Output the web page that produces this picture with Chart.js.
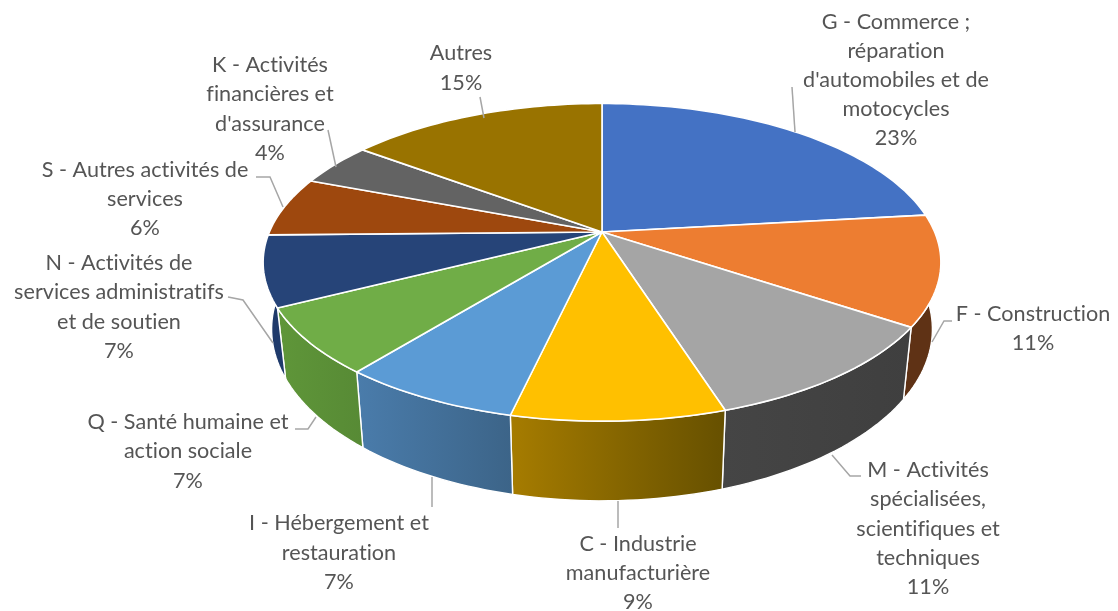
<!DOCTYPE html>
<html>
<head>
<meta charset="utf-8">
<style>
  html, body { margin: 0; padding: 0; background: #fff; }
  canvas { display: block; }
</style>
<script src="https://cdn.jsdelivr.net/npm/chart.js@4/dist/chart.umd.js"></script>
</head>
<body>
<canvas id="pie" width="1118" height="611"></canvas>
<script>
const categories = [
    "G - Commerce ;\nréparation\nd'automobiles et de\nmotocycles",
    'F - Construction',
    'M - Activités\nspécialisées,\nscientifiques et\ntechniques',
    'C - Industrie\nmanufacturière',
    'I - Hébergement et\nrestauration',
    'Q - Santé humaine et\naction sociale',
    'N - Activités de\nservices administratifs\net de soutien',
    'S - Autres activités de\nservices',
    'K - Activités\nfinancières et\nd\'assurance',
    'Autres'
];
const shares = [23.2, 11.2, 10.7, 8.5, 7.2, 6.7, 7.2, 6.1, 4.4, 14.8];
const topColors = ['#4472C4', '#ED7D31', '#A5A5A5', '#FFC000', '#5B9BD5', '#70AD47', '#264478', '#9E480E', '#636363', '#997300'];
const wallFrom = ['#2f5597', '#5f3215', '#454545', '#a67c00', '#4a7cab', '#5f9639', '#1f3a6b', '#6f3209', '#454545', '#6b5000'];
const wallTo = ['#2f5597', '#5f3215', '#3f3f3f', '#665000', '#3c6488', '#578a35', '#1f3a6b', '#6f3209', '#454545', '#6b5000'];

// where the text sits: centre x, centre y of each line
const labelX = [896, 1033, 928, 638, 339, 188, 119, 145, 270, 461];
const labelY = [
    [22.5, 51.5, 80.5, 109.5, 138.5],
    [314.5, 343.5],
    [470.5, 499.5, 529.5, 558.5, 587.5],
    [544.5, 573.5, 602.5],
    [523.5, 553.5, 582.5],
    [422.5, 451.5, 481.5],
    [263.5, 292.5, 322.5, 351.5],
    [170.5, 199.5, 228.5],
    [65.5, 94.5, 124.5, 153.5],
    [53.5, 83.5]
];
const leaders = [
    [[792, 87], [795, 132]],
    [[952, 321], [944, 321], [932, 342]],
    [[861, 476], [850, 476], [832, 455]],
    [[618, 501], [618, 528]],
    [[432, 477], [432, 507]],
    [[295, 429], [308, 429], [316, 417]],
    [[228, 297], [243, 300], [273, 343]],
    [[256, 177], [270, 177], [283, 207]],
    [[328, 130], [336, 167]],
    [[480, 97], [484, 118]]
];

// perspective of the tilted disc, relative to the radius chart.js gives the pie
const TILT = 0.191;
const STRETCH_X = 1.44;
const STRETCH_Y = 0.6625;
const WALL = 0.279;
const WALL_SHRINK = 0.975;

function rimPoint(el, angle) {
    const u = Math.cos(angle), v = Math.sin(angle);
    const d = 1 - TILT * v;
    return {
        x: el.x + el.outerRadius * STRETCH_X * u / d,
        y: el.y + el.outerRadius * STRETCH_Y * v / d,
        drop: el.outerRadius * WALL / d
    };
}

function rimAngles(el) {
    const steps = Math.max(4, Math.ceil((el.endAngle - el.startAngle) * 40));
    const out = [];
    for (let i = 0; i <= steps; i++) {
        out.push(el.startAngle + (el.endAngle - el.startAngle) * i / steps);
    }
    return out;
}

// the flat top of a slice
class TiltedArc extends Chart.ArcElement {
    draw(ctx) {
        ctx.save();
        ctx.beginPath();
        ctx.moveTo(this.x, this.y);
        rimAngles(this).forEach(a => {
            const p = rimPoint(this, a);
            ctx.lineTo(p.x, p.y);
        });
        ctx.closePath();
        ctx.fillStyle = this.options.backgroundColor;
        ctx.fill();
        ctx.strokeStyle = '#fff';
        ctx.lineWidth = 1.6;
        ctx.lineJoin = 'round';
        ctx.stroke();
        ctx.restore();
    }
}
TiltedArc.id = 'tiltedArc';
Chart.register(TiltedArc);
Chart.defaults.datasets.pie.dataElementType = 'tiltedArc';

const walls = {
    id: 'walls',
    beforeDatasetsDraw(chart) {
        const ctx = chart.ctx;
        chart.getDatasetMeta(0).data.forEach((el, i) => {
            const angles = rimAngles(el).map(a => rimPoint(el, a));
            const bottom = angles.map(p => ({
                x: el.x + (p.x - el.x) * WALL_SHRINK,
                y: p.y + p.drop
            }));
            const xs = angles.concat(bottom).map(p => p.x);
            const grad = ctx.createLinearGradient(Math.min(...xs), 0, Math.max(...xs), 0);
            grad.addColorStop(0, wallFrom[i]);
            grad.addColorStop(1, wallTo[i]);
            ctx.save();
            ctx.beginPath();
            angles.forEach((p, k) => k ? ctx.lineTo(p.x, p.y) : ctx.moveTo(p.x, p.y));
            bottom.reverse().forEach(p => ctx.lineTo(p.x, p.y));
            ctx.closePath();
            ctx.fillStyle = grad;
            ctx.fill();
            ctx.strokeStyle = '#fff';
            ctx.lineWidth = 1.4;
            ctx.stroke();
            ctx.restore();
        });
    }
};

const sliceLabels = {
    id: 'sliceLabels',
    afterDraw(chart) {
        const ctx = chart.ctx;
        ctx.save();
        ctx.strokeStyle = '#a6a6a6';
        ctx.lineWidth = 1.5;
        leaders.forEach(line => {
            ctx.beginPath();
            line.forEach((p, k) => k ? ctx.lineTo(p[0], p[1]) : ctx.moveTo(p[0], p[1]));
            ctx.stroke();
        });
        ctx.fillStyle = '#555555';
        ctx.font = '21.6px Lato';
        ctx.letterSpacing = '0.01px'; // keeps Lato from joining ti / fi
        ctx.textAlign = 'center';
        ctx.textBaseline = 'middle';
        categories.forEach((name, i) => {
            const lines = name.split('\n').concat(Math.round(shares[i]) + '%');
            lines.forEach((t, k) => ctx.fillText(t, labelX[i], labelY[i][k]));
        });
        ctx.restore();
    }
};

new Chart(document.getElementById('pie'), {
    type: 'pie',
    data: { labels: categories, datasets: [{ data: shares, backgroundColor: topColors }] },
    options: {
        responsive: false,
        animation: false,
        layout: { padding: { left: 86, right: 0, top: 0, bottom: 147 } },
        plugins: { legend: { display: false }, tooltip: { enabled: false } }
    },
    plugins: [walls, sliceLabels]
});
</script>
</body>
</html>
